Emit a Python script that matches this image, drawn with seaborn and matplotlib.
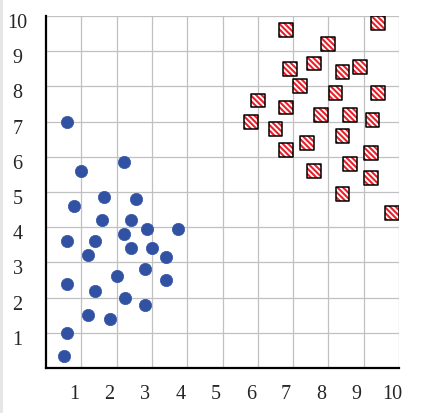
import matplotlib
matplotlib.use("Agg")
import matplotlib.pyplot as plt
import matplotlib.transforms as mtransforms
from matplotlib.patches import Rectangle
import seaborn as sns
import pandas as pd

# blue group (circles)
blue_x = [0.6, 1.0, 2.2, 1.65, 2.55, 0.8, 1.6, 2.4, 2.85, 3.75, 0.6, 1.4, 2.2, 2.4,
          3.0, 1.2, 3.4, 2.8, 2.0, 3.4, 0.6, 1.4, 2.25, 2.8, 1.2, 1.8, 0.6, 0.5]
blue_y = [7.0, 5.6, 5.85, 4.85, 4.8, 4.6, 4.2, 4.2, 3.95, 3.95, 3.6, 3.6, 3.8, 3.4,
          3.4, 3.2, 3.15, 2.8, 2.6, 2.5, 2.4, 2.2, 2.0, 1.8, 1.5, 1.4, 1.0, 0.35]

# red group (hatched squares)
red_x = [6.8, 9.4, 8.0, 6.9, 7.6, 8.4, 8.9, 7.2, 8.2, 9.4, 6.0, 6.8, 7.8, 8.6,
         9.25, 5.8, 6.5, 8.4, 7.4, 6.8, 9.2, 8.6, 7.6, 9.2, 8.4, 9.8]
red_y = [9.6, 9.8, 9.2, 8.5, 8.65, 8.4, 8.55, 8.0, 7.8, 7.8, 7.6, 7.4, 7.2, 7.2,
         7.05, 7.0, 6.8, 6.6, 6.4, 6.2, 6.1, 5.8, 5.6, 5.4, 4.95, 4.4]

ticks = [1, 2, 3, 4, 5, 6, 7, 8, 9, 10]

blue = pd.DataFrame({"x": blue_x, "y": blue_y})
red = pd.DataFrame({"x": red_x, "y": red_y})

sns.set_style("white")
plt.rcParams["font.family"] = ["Liberation Serif", "DejaVu Serif"]
plt.rcParams["hatch.color"] = "#e8202a"
plt.rcParams["hatch.linewidth"] = 1.5

fig = plt.figure(figsize=(4.33, 4.13), dpi=100)
ax = fig.add_axes([46 / 433, 45 / 413, 353 / 433, 352 / 413])
fig.add_artist(Rectangle((0, 0), 2.5 / 433, 1, transform=fig.transFigure,
                         color="#e6e6e6", lw=0))

sns.scatterplot(data=blue, x="x", y="y", ax=ax, marker="o", s=78,
                color="#3152a3", edgecolor="#3152a3", linewidth=0.5, zorder=3)
sns.scatterplot(data=red, x="x", y="y", ax=ax, marker="s", s=100,
                facecolor="white", edgecolor="#e8202a", linewidth=0,
                hatch="\\" * 6, zorder=3)
sns.scatterplot(data=red, x="x", y="y", ax=ax, marker="s", s=100,
                facecolor="none", edgecolor="black", linewidth=1.1, zorder=4)

ax.set_xlim(0, 10)
ax.set_ylim(0, 10)
ax.set_xticks(ticks)
ax.set_yticks(ticks)
ax.set_xlabel("")
ax.set_ylabel("")
ax.grid(True, color="#c0c0c0", linewidth=0.9, zorder=0)
ax.set_axisbelow(True)

for side in ["top", "right"]:
    ax.spines[side].set_visible(False)
for side in ["left", "bottom"]:
    ax.spines[side].set_color("black")
    ax.spines[side].set_linewidth(1.6)

ax.tick_params(axis="x", length=0, pad=12, labelsize=14.5)
ax.tick_params(axis="y", length=0, pad=20.5, labelsize=14.5)

# labels sit a little left (x) and low (y) of their gridlines
dx = mtransforms.ScaledTranslation(-0.07, 0, fig.dpi_scale_trans)
for lab in ax.get_xticklabels():
    lab.set_transform(lab.get_transform() + dx)
dy = mtransforms.ScaledTranslation(0, -0.05, fig.dpi_scale_trans)
for lab in ax.get_yticklabels():
    lab.set_horizontalalignment("center")
    lab.set_transform(lab.get_transform() + dy)

fig.savefig("out.png", dpi=100)
